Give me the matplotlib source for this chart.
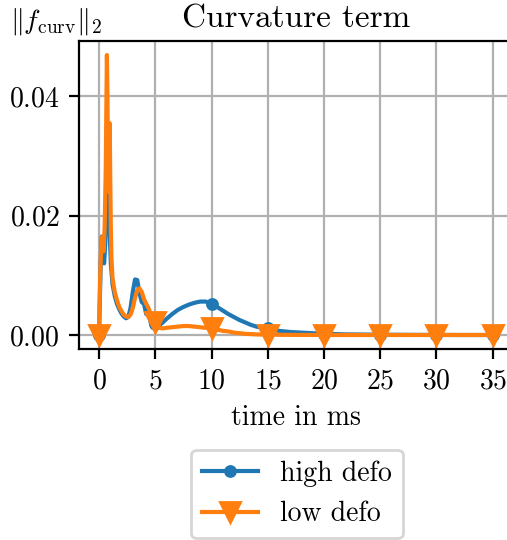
import matplotlib
matplotlib.use("Agg")
import matplotlib.pyplot as plt

plt.rcParams.update({
    "font.family": "serif",
    "font.serif": ["cmr10"],
    "mathtext.fontset": "cm",
    "axes.formatter.use_mathtext": True,
    "axes.unicode_minus": False,
    "font.size": 10,
})

# time in ms and curvature-term norm for the high-deformation case
t_high = [0, 0.15, 0.25, 0.35, 0.45, 0.55, 0.65, 0.75, 0.85, 0.95, 1.05, 1.2,
          1.4, 1.6, 1.8, 2.0, 2.2, 2.4, 2.6, 2.8, 3.0, 3.2, 3.4, 3.6, 3.8, 4.0,
          4.2, 4.4, 4.6, 4.8, 5.0, 5.3, 5.6, 6.0, 6.5, 7.0, 7.5, 8.0, 8.5, 9.0,
          9.5, 10.0, 10.5, 11.0, 11.5, 12.0, 12.5, 13.0, 13.5, 14.0, 14.5, 15.0,
          16.0, 17.0, 18.0, 19.0, 20.0, 22.0, 25.0, 28.0, 30.0, 32.0, 35.0]
f_high = [0.0, 0.012, 0.0165, 0.016, 0.012, 0.015, 0.021, 0.027, 0.025, 0.017,
          0.012, 0.0085, 0.0065, 0.0052, 0.0043, 0.0036, 0.0031, 0.0028, 0.0030,
          0.0045, 0.0072, 0.0093, 0.0092, 0.0070, 0.0055, 0.0052, 0.0035, 0.0040,
          0.0020, 0.0025, 0.0018, 0.0016, 0.0020, 0.0027, 0.0035, 0.0042, 0.0047,
          0.0051, 0.0054, 0.0056, 0.0056, 0.0052, 0.0047, 0.0041, 0.0035, 0.0030,
          0.0025, 0.0021, 0.0017, 0.0014, 0.0012, 0.0011, 0.0007, 0.0005, 0.0004,
          0.0003, 0.0002, 0.0001, 0.00005, 0.00002, 0.00001, 0.0, 0.0]

# time in ms and curvature-term norm for the low-deformation case
t_low = [0, 0.1, 0.2, 0.3, 0.4, 0.5, 0.6, 0.65, 0.7, 0.75, 0.8, 0.85, 0.9, 0.95,
         1.0, 1.05, 1.1, 1.2, 1.4, 1.6, 1.8, 2.0, 2.2, 2.4, 2.6, 2.8, 3.0, 3.2,
         3.4, 3.6, 3.8, 4.0, 4.2, 4.4, 4.6, 4.8, 5.0, 5.3, 5.6, 6.0, 6.5, 7.0,
         7.5, 8.0, 8.5, 9.0, 9.5, 10.0, 10.5, 11.0, 11.5, 12.0, 13.0, 14.0, 15.0,
         17.0, 20.0, 25.0, 30.0, 35.0]
f_low = [0.0, 0.010, 0.015, 0.0165, 0.014, 0.018, 0.028, 0.038, 0.0469, 0.040,
         0.026, 0.024, 0.030, 0.0355, 0.026, 0.018, 0.013, 0.0095, 0.0072, 0.0058,
         0.0047, 0.0040, 0.0034, 0.0031, 0.0030, 0.0034, 0.0045, 0.0062, 0.0075,
         0.0078, 0.0072, 0.0060, 0.0052, 0.0045, 0.0035, 0.0030, 0.0022, 0.0013,
         0.0011, 0.0012, 0.0013, 0.0014, 0.0015, 0.0015, 0.0014, 0.0013, 0.0012,
         0.0011, 0.0009, 0.0007, 0.0006, 0.0004, 0.0002, 0.0001, 0.00005, 0.00002,
         0.0, 0.0, 0.0, 0.0]

marker_times = [0, 5, 10, 15, 20, 25, 30, 35]
xticks = [0, 5, 10, 15, 20, 25, 30, 35]


def marker_indices(times):
    return [i for i, t in enumerate(times) if t in marker_times]


fig = plt.figure(figsize=(507 / 200, 540 / 200), dpi=200)
# the axes box runs past the right edge of the canvas
ax = fig.add_axes([79 / 507, 191 / 540, 445 / 507, 308 / 540])
ax.spines["right"].set_visible(False)

ax.plot(t_high, f_high, color="C0", marker="o", markersize=3.6,
        markevery=marker_indices(t_high), label="high defo")
ax.plot(t_low, f_low, color="C1", marker="v", markersize=7,
        markevery=marker_indices(t_low), label="low defo")

ax.grid(True)
ax.set_xlim(-1.78, 37.78)
ax.set_xticks(xticks)
ax.set_yticks([0.0, 0.02, 0.04])
ax.set_xlabel("time in ms")
ax.xaxis.set_label_coords((296 - 79) / 445, -0.18)
ax.set_title("Curvature term", pad=5, x=(296 - 79) / 445)
ax.set_ylabel(r"$\|f_{\mathrm{curv}}\|_2$", rotation=0, ha="center", va="center")
ax.yaxis.set_label_coords(-0.052, 1.062)

fig.legend(loc="center", bbox_to_anchor=(297 / 507, 1 - 494 / 540))

fig.savefig("out.png", dpi=200)
